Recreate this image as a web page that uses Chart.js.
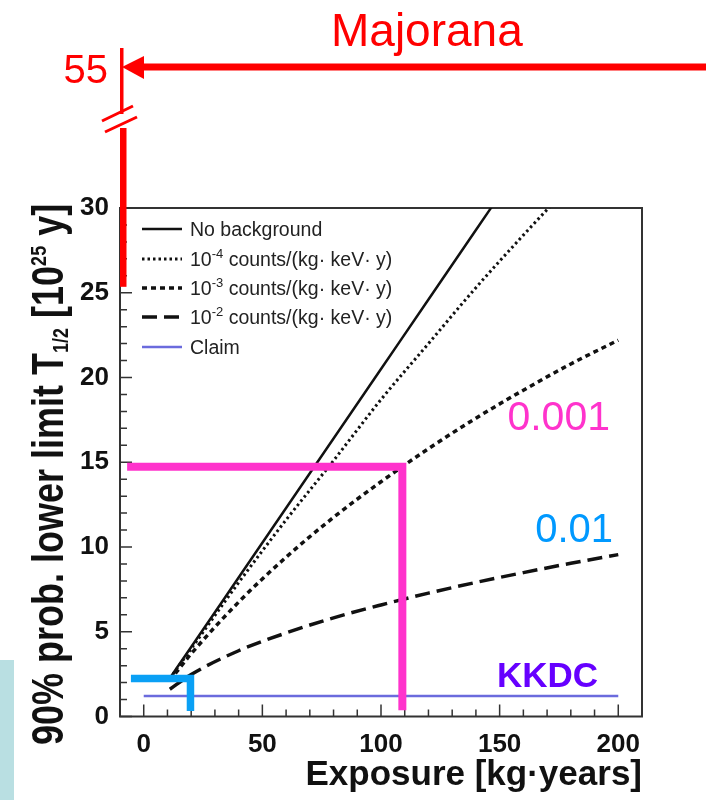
<!DOCTYPE html>
<html>
<head>
<meta charset="utf-8">
<script src="https://cdn.jsdelivr.net/npm/chart.js@4.4.0/dist/chart.umd.min.js"></script>
<style>
  html, body { margin: 0; padding: 0; background: #fff; }
  #wrap { position: relative; width: 706px; height: 800px; }
</style>
</head>
<body>
<div id="wrap"><canvas id="limit-chart"></canvas></div>
<script>
const FONT = "'Liberation Sans', Arial, Helvetica, sans-serif";

// Exposure grid [kg·years] and 90% lower limits on T1/2 [10^25 y]
const exposure    = [11, 20, 40, 60, 80, 100, 120, 140, 160, 180, 200];
const limitNoBkg  = [2.26, 4.1, 8.2, 12.3, 16.4, 20.5, 24.6, 28.7, 32.8, null, null];
const limitBkg1e4 = [2.24, 4.0, 7.9, 11.6, 15.1, 18.7, 22.0, 25.3, 28.4, 31.4, null];
const limitBkg1e3 = [2.12, 3.7, 6.75, 9.4, 11.75, 13.85, 15.8, 17.6, 19.25, 20.8, 22.2];
const limitBkg1e2 = [1.61, 2.48, 3.88, 4.93, 5.82, 6.58, 7.28, 7.91, 8.49, 9.04, 9.55];

// Claim level
const claimExposure = [0, 200];
const claimLimit = [1.21, 1.21];

// Bracket markers (corner at exposure / limit reached)
const pinkX = [-7, 109, 109];
const pinkY = [14.73, 14.73, 0.37];
const blueX = [-5.4, 19.7, 19.7];
const blueY = [2.24, 2.24, 0.33];

// Axes
const xTicks = [0, 50, 100, 150, 200];
const yTicks = [0, 5, 10, 15, 20, 25, 30];
const xMinorStep = 10;
const yMinorStep = 1;

// Majorana goal, off-scale at the broken axis
const majoranaLabel = '55';
const majoranaBarBottom = 25.35;

const pts = (xs, ys) => xs.map((x, i) => ({ x: x, y: ys[i] }));

const legendRows = [
    { ds: 0, parts: [['No background']] },
    { ds: 1, parts: [['10'], ['-4', 'sup'], [' counts/(kg· keV· y)']] },
    { ds: 2, parts: [['10'], ['-3', 'sup'], [' counts/(kg· keV· y)']] },
    { ds: 3, parts: [['10'], ['-2', 'sup'], [' counts/(kg· keV· y)']] },
    { ds: 4, parts: [['Claim']] }
];
const legendRowY = [229, 259, 288, 317, 347];

// draw text pieces with super/subscripts, returns width
function drawRich(ctx, parts, x, y, size, weight, smallSize, supShift, subShift) {
    let cx = x;
    parts.forEach(([t, kind]) => {
        const s = kind ? smallSize : size;
        ctx.font = weight + ' ' + s + 'px ' + FONT;
        let dy = 0;
        if (kind === 'sup') dy = -supShift;
        if (kind === 'sub') dy = subShift;
        ctx.fillText(t, cx, y + dy);
        cx += ctx.measureText(t).width;
    });
    return cx - x;
}

const overlay = {
    id: 'overlay',
    beforeDraw(chart) {
        const ctx = chart.ctx;
        ctx.save();
        ctx.fillStyle = '#ffffff';
        ctx.fillRect(0, 0, chart.width, chart.height);
        ctx.fillStyle = '#b9dfe2';
        ctx.fillRect(0, 660, 14, 140);
        ctx.restore();
    },
    beforeDatasetsDraw(chart) {
        const ctx = chart.ctx;
        const area = chart.chartArea;
        const xs = chart.scales.x, ys = chart.scales.y;
        ctx.save();
        // frame
        ctx.strokeStyle = '#333';
        ctx.lineWidth = 2;
        ctx.strokeRect(area.left, area.top, area.right - area.left, area.bottom - area.top);
        // inward ticks
        ctx.lineWidth = 1.5;
        ctx.beginPath();
        for (let v = 0; v <= 200; v += xMinorStep) {
            const px = xs.getPixelForValue(v);
            const len = v % 50 === 0 ? 12 : 7;
            ctx.moveTo(px, area.bottom);
            ctx.lineTo(px, area.bottom - len);
        }
        for (let v = 0; v <= 30; v += yMinorStep) {
            const py = ys.getPixelForValue(v);
            const len = v % 5 === 0 ? 12 : 7;
            ctx.moveTo(area.left, py);
            ctx.lineTo(area.left + len, py);
        }
        ctx.stroke();
        ctx.restore();
    },
    afterDraw(chart) {
        const ctx = chart.ctx;
        const area = chart.chartArea;
        const ys = chart.scales.y;
        ctx.save();

        // legend
        ctx.textBaseline = 'alphabetic';
        legendRows.forEach((row, i) => {
            const ds = chart.data.datasets[row.ds];
            const y = legendRowY[i];
            ctx.strokeStyle = ds.borderColor;
            ctx.lineWidth = ds.borderWidth;
            ctx.setLineDash(ds.borderDash || []);
            ctx.beginPath();
            ctx.moveTo(142, y);
            ctx.lineTo(182, y);
            ctx.stroke();
            ctx.setLineDash([]);
            ctx.fillStyle = '#222';
            drawRich(ctx, row.parts, 190, y + 7, 19.5, 'normal', 13, 8, 0);
        });

        // y title, rotated
        ctx.save();
        ctx.translate(63, 745);
        ctx.rotate(-Math.PI / 2);
        ctx.scale(1, 1.25);
        ctx.fillStyle = '#111';
        drawRich(ctx, [['90% prob. lower limit T'], ['1/2', 'sub'], [' [10'], ['25', 'sup'], [' y]']],
            0, 0, 36, 'bold', 18, 14, 4);
        ctx.restore();

        // Majorana: broken axis bar and arrow
        const ax = area.left;
        ctx.fillStyle = '#ff0000';
        ctx.strokeStyle = '#ff0000';
        const barBottom = ys.getPixelForValue(majoranaBarBottom);
        ctx.fillRect(ax, 128, 6.5, barBottom - 128);
        ctx.fillRect(ax, 48, 3.5, 66);
        ctx.lineWidth = 3;
        ctx.beginPath();
        ctx.moveTo(ax - 18, 121); ctx.lineTo(ax + 13, 106);
        ctx.moveTo(ax - 15, 132); ctx.lineTo(ax + 17, 117);
        ctx.stroke();
        ctx.fillRect(ax + 22, 63.5, 706 - ax - 22, 7);
        ctx.beginPath();
        ctx.moveTo(ax + 2, 67);
        ctx.lineTo(ax + 24, 56);
        ctx.lineTo(ax + 24, 79);
        ctx.closePath();
        ctx.fill();

        ctx.font = '40px ' + FONT;
        ctx.textAlign = 'right';
        ctx.fillText(majoranaLabel, 108, 83);
        ctx.font = '46px ' + FONT;
        ctx.textAlign = 'left';
        ctx.fillText('Majorana', 331, 46);

        // background level labels
        ctx.textAlign = 'right';
        ctx.font = '41px ' + FONT;
        ctx.fillStyle = '#ff33cc';
        ctx.fillText('0.001', 610, 430);
        ctx.font = '40px ' + FONT;
        ctx.fillStyle = '#0099ff';
        ctx.fillText('0.01', 613, 542);
        ctx.textAlign = 'left';
        ctx.font = 'bold 35px ' + FONT;
        ctx.fillStyle = '#6600ff';
        ctx.fillText('KKDC', 497, 687);

        ctx.restore();
    }
};

const ctx = document.getElementById('limit-chart').getContext('2d');
const limitChart = new Chart(ctx, {
    type: 'line',
    data: {
        datasets: [
            { label: 'No background', data: pts(exposure, limitNoBkg), borderColor: '#111', borderWidth: 2.5, order: 2 },
            { label: '1e-4', data: pts(exposure, limitBkg1e4), borderColor: '#111', borderWidth: 3, borderDash: [2.5, 3], order: 2 },
            { label: '1e-3', data: pts(exposure, limitBkg1e3), borderColor: '#111', borderWidth: 3.5, borderDash: [5, 4], order: 2 },
            { label: '1e-2', data: pts(exposure, limitBkg1e2), borderColor: '#111', borderWidth: 3.5, borderDash: [15, 7], order: 2 },
            { label: 'Claim', data: pts(claimExposure, claimLimit), borderColor: '#6b6bdd', borderWidth: 2.5, order: 2 },
            { label: 'pink', data: pts(pinkX, pinkY), borderColor: '#ff33cc', borderWidth: 8, cubicInterpolationMode: 'default', tension: 0, order: 0 },
            { label: 'blue', data: pts(blueX, blueY), borderColor: '#0aa0f5', borderWidth: 7.5, cubicInterpolationMode: 'default', tension: 0, order: 0 }
        ]
    },
    options: {
        responsive: true,
        maintainAspectRatio: false,
        animation: false,
        layout: { padding: { top: 208, right: 64, bottom: 0, left: 0 } },
        elements: {
            point: { radius: 0 },
            line: { cubicInterpolationMode: 'monotone', borderCapStyle: 'butt', borderJoinStyle: 'miter', fill: false }
        },
        plugins: {
            legend: { display: false },
            tooltip: { enabled: false }
        },
        scales: {
            x: {
                type: 'linear',
                min: -10,
                max: 210,
                afterBuildTicks: s => { s.ticks = xTicks.map(v => ({ value: v })); },
                afterFit: s => { s.height = 83.5; },
                grid: { display: false, drawTicks: false },
                border: { display: false },
                ticks: { font: { family: FONT, size: 26, weight: 'bold' }, color: '#111', padding: 13, maxRotation: 0 },
                title: {
                    display: true,
                    text: 'Exposure [kg·years]',
                    align: 'end',
                    color: '#111',
                    font: { family: FONT, size: 35, weight: 'bold' },
                    padding: { top: 0, bottom: 4 }
                }
            },
            y: {
                type: 'linear',
                min: 0,
                max: 30,
                afterBuildTicks: s => { s.ticks = yTicks.map(v => ({ value: v })); },
                afterFit: s => { s.width = 120; },
                grid: { display: false, drawTicks: false },
                border: { display: false },
                ticks: { font: { family: FONT, size: 26, weight: 'bold' }, color: '#111', padding: 11 }
            }
        }
    },
    plugins: [overlay]
});
</script>
</body>
</html>
